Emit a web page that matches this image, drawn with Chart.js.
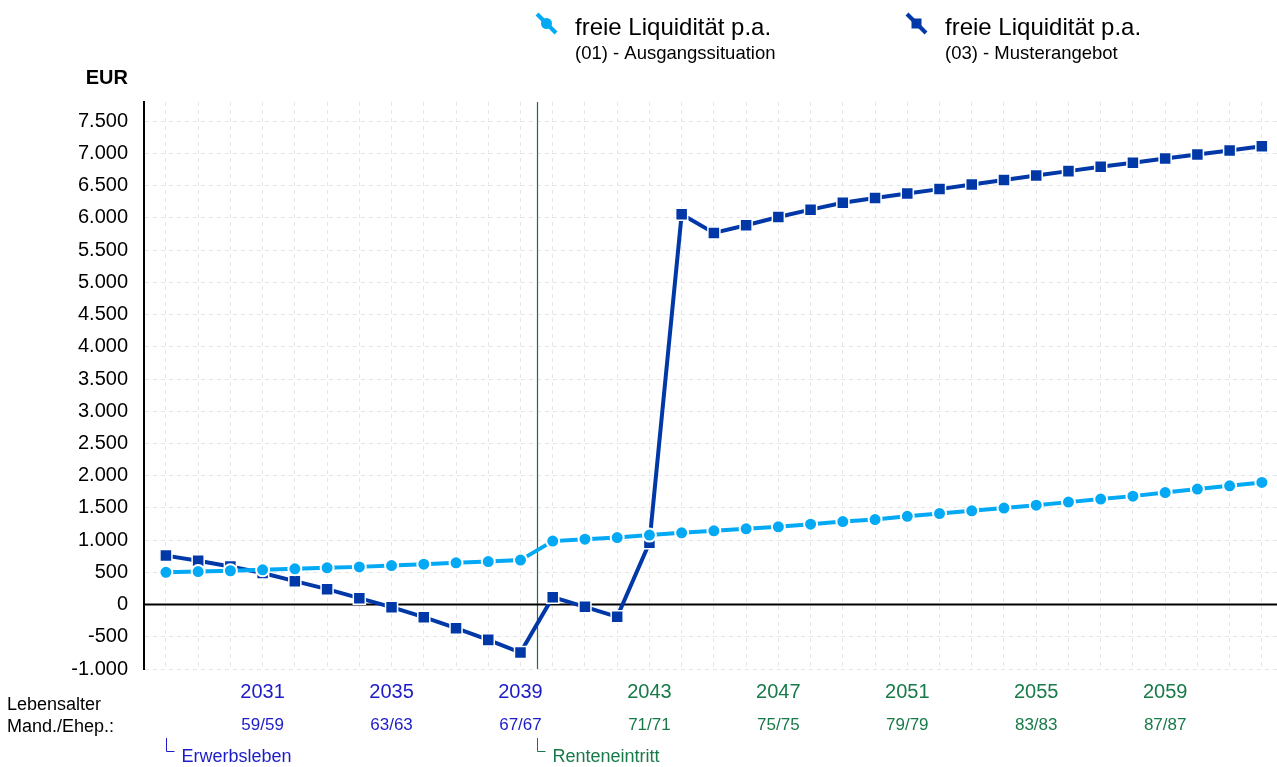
<!DOCTYPE html>
<html lang="de">
<head>
    <meta charset="UTF-8">
    <meta name="viewport" content="width=device-width, initial-scale=1.0">
    <title>freie Liquidität p.a.</title>
    <script src="https://cdn.jsdelivr.net/npm/chart.js"></script>
    <style>
        html, body { margin: 0; padding: 0; background: #fff; overflow: hidden; }
        canvas { display: block; }
    </style>
</head>
<body>
    <canvas id="chart" width="1277" height="767"></canvas>

    <script>
        // Jahre (x-Achse)
        const jahre = [2028, 2029, 2030, 2031, 2032, 2033, 2034, 2035, 2036, 2037, 2038, 2039,
                       2040, 2041, 2042, 2043, 2044, 2045, 2046, 2047, 2048, 2049, 2050, 2051,
                       2052, 2053, 2054, 2055, 2056, 2057, 2058, 2059, 2060, 2061, 2062];

        // (01) - Ausgangssituation
        const ausgangssituation = [500, 512, 525, 540, 555, 570, 585, 605, 627, 648, 668, 690,
                                   985, 1015, 1040, 1078, 1113, 1145, 1175, 1207, 1248, 1289, 1320, 1370,
                                   1413, 1455, 1497, 1543, 1590, 1637, 1683, 1739, 1792, 1843, 1895];

        // (03) - Musterangebot
        const musterangebot = [760, 679, 590, 490, 363, 239, 99, -40, -196, -366, -548, -745,
                               115, -35, -190, 960, 6057, 5768, 5887, 6015, 6129, 6237, 6310, 6380,
                               6448, 6521, 6588, 6660, 6727, 6794, 6856, 6923, 6985, 7046, 7113];

        // Beschriftung unter der x-Achse
        const labelJahre = [2031, 2035, 2039, 2043, 2047, 2051, 2055, 2059];
        const labelAlter = ['59/59', '63/63', '67/67', '71/71', '75/75', '79/79', '83/83', '87/87'];

        // y-Achse
        const yTicks = [-1000, -500, 0, 500, 1000, 1500, 2000, 2500, 3000, 3500,
                        4000, 4500, 5000, 5500, 6000, 6500, 7000, 7500];

        const rentenJahr = 2040;   // Renteneintritt
        const startJahr = 2028;    // Erwerbsleben

        const HELL = '#03a9f4';
        const DUNKEL = '#0038a8';
        const BLAU_TEXT = '#1c1cc8';
        const GRUEN_TEXT = '#187a48';
        const FONT = '"Liberation Sans", Arial, sans-serif';

        function formatDE(v) {
            const s = Math.abs(v).toString().replace(/\B(?=(\d{3})+(?!\d))/g, '.');
            return (v < 0 ? '-' : '') + s;
        }

        // Zusatzgrafik: Nulllinie, Renteneintritt, Legende, Achsenbeschriftung
        const extras = {
            id: 'extras',
            beforeDatasetsDraw(chart) {
                const ctx = chart.ctx;
                const area = chart.chartArea;
                const x = chart.scales.x, y = chart.scales.y;
                ctx.save();
                // Renteneintritt-Linie
                const xr = Math.round(x.getPixelForValue(rentenJahr - 0.5)) + 0.5;
                ctx.strokeStyle = '#1a6e48';
                ctx.lineWidth = 1.2;
                ctx.beginPath();
                ctx.moveTo(xr, area.top);
                ctx.lineTo(xr, area.bottom);
                ctx.stroke();
                // Nulllinie
                const y0 = y.getPixelForValue(0);
                ctx.strokeStyle = '#000';
                ctx.lineWidth = 2;
                ctx.beginPath();
                ctx.moveTo(area.left, y0);
                ctx.lineTo(area.right, y0);
                ctx.stroke();
                ctx.restore();
            },
            afterDraw(chart) {
                const ctx = chart.ctx;
                const x = chart.scales.x;
                ctx.save();
                ctx.textBaseline = 'middle';

                // EUR
                ctx.fillStyle = '#000';
                ctx.font = 'bold 20px ' + FONT;
                ctx.textAlign = 'right';
                ctx.fillText('EUR', 128, 78);

                // Jahre und Lebensalter
                ctx.textAlign = 'center';
                labelJahre.forEach((j, i) => {
                    const px = x.getPixelForValue(j);
                    ctx.fillStyle = j < rentenJahr ? BLAU_TEXT : GRUEN_TEXT;
                    ctx.font = '20px ' + FONT;
                    ctx.fillText(String(j), px, 692);
                    ctx.font = '17px ' + FONT;
                    ctx.fillText(labelAlter[i], px, 725);
                });

                ctx.textAlign = 'left';
                ctx.fillStyle = '#000';
                ctx.font = '18px ' + FONT;
                ctx.fillText('Lebensalter', 7, 705);
                ctx.fillText('Mand./Ehep.:', 7, 727);

                // Klammern unten
                function klammer(px, text, farbe) {
                    ctx.strokeStyle = farbe;
                    ctx.fillStyle = farbe;
                    ctx.lineWidth = 1;
                    ctx.beginPath();
                    ctx.moveTo(px, 738);
                    ctx.lineTo(px, 751.5);
                    ctx.lineTo(px + 8, 751.5);
                    ctx.stroke();
                    ctx.font = '18px ' + FONT;
                    ctx.fillText(text, px + 15, 757);
                }
                klammer(Math.round(x.getPixelForValue(startJahr)) + 0.5, 'Erwerbsleben', BLAU_TEXT);
                klammer(Math.round(x.getPixelForValue(rentenJahr - 0.5)) + 0.5, 'Renteneintritt', GRUEN_TEXT);

                // Legende
                function legende(lx, farbe, kreis, titel, untertitel) {
                    ctx.strokeStyle = farbe;
                    ctx.lineWidth = 4;
                    ctx.lineCap = 'butt';
                    ctx.beginPath();
                    ctx.moveTo(lx, 14);
                    ctx.lineTo(lx + 19, 33);
                    ctx.stroke();
                    ctx.fillStyle = farbe;
                    ctx.beginPath();
                    if (kreis) {
                        ctx.arc(lx + 9.5, 23.5, 5.5, 0, Math.PI * 2);
                    } else {
                        ctx.rect(lx + 4.5, 18.5, 10, 10);
                    }
                    ctx.fill();
                    ctx.fillStyle = '#000';
                    ctx.font = '24px ' + FONT;
                    ctx.fillText(titel, lx + 38, 28);
                    ctx.font = '18.5px ' + FONT;
                    ctx.fillText(untertitel, lx + 38, 54);
                }
                legende(537, HELL, true, 'freie Liquidität p.a.', '(01) - Ausgangssituation');
                legende(907, DUNKEL, false, 'freie Liquidität p.a.', '(03) - Musterangebot');

                ctx.restore();
            }
        };

        const ctx = document.getElementById('chart').getContext('2d');
        const myChart = new Chart(ctx, {
            type: 'line',
            data: {
                datasets: [{
                    label: 'freie Liquidität p.a. (01) - Ausgangssituation',
                    data: jahre.map((j, i) => ({ x: j, y: ausgangssituation[i] })),
                    borderColor: HELL,
                    backgroundColor: HELL,
                    borderWidth: 4,
                    pointStyle: 'circle',
                    pointRadius: 6.5,
                    pointBorderColor: '#fff',
                    pointBorderWidth: 2,
                    tension: 0
                }, {
                    label: 'freie Liquidität p.a. (03) - Musterangebot',
                    data: jahre.map((j, i) => ({ x: j, y: musterangebot[i] })),
                    borderColor: DUNKEL,
                    backgroundColor: DUNKEL,
                    borderWidth: 4,
                    pointStyle: 'rect',
                    pointRadius: 8.5,
                    pointBorderColor: '#fff',
                    pointBorderWidth: 1.5,
                    tension: 0
                }]
            },
            options: {
                responsive: false,
                animation: false,
                layout: { autoPadding: false, padding: { top: 102, left: 0, right: 0, bottom: 0 } },
                plugins: {
                    legend: { display: false },
                    tooltip: { enabled: false }
                },
                scales: {
                    x: {
                        type: 'linear',
                        min: 2027.32,
                        max: 2062.47,
                        afterBuildTicks: s => { s.ticks = jahre.map(v => ({ value: v })); },
                        afterFit: s => { s.height = 98; },
                        ticks: { display: false },
                        grid: { color: '#e6e6e6', lineWidth: 1, drawTicks: false },
                        border: { display: false, dash: [4, 4] }
                    },
                    y: {
                        min: -1000,
                        max: 7800,
                        afterBuildTicks: s => { s.ticks = yTicks.map(v => ({ value: v })); },
                        afterFit: s => { s.width = 144; },
                        ticks: {
                            padding: 16,
                            color: '#000',
                            font: { family: FONT, size: 20 },
                            callback: v => formatDE(v)
                        },
                        grid: { color: '#e6e6e6', lineWidth: 1, drawTicks: false },
                        border: { display: true, color: '#000', width: 2, dash: [4, 4] }
                    }
                }
            },
            plugins: [extras]
        });
    </script>
</body>
</html>
